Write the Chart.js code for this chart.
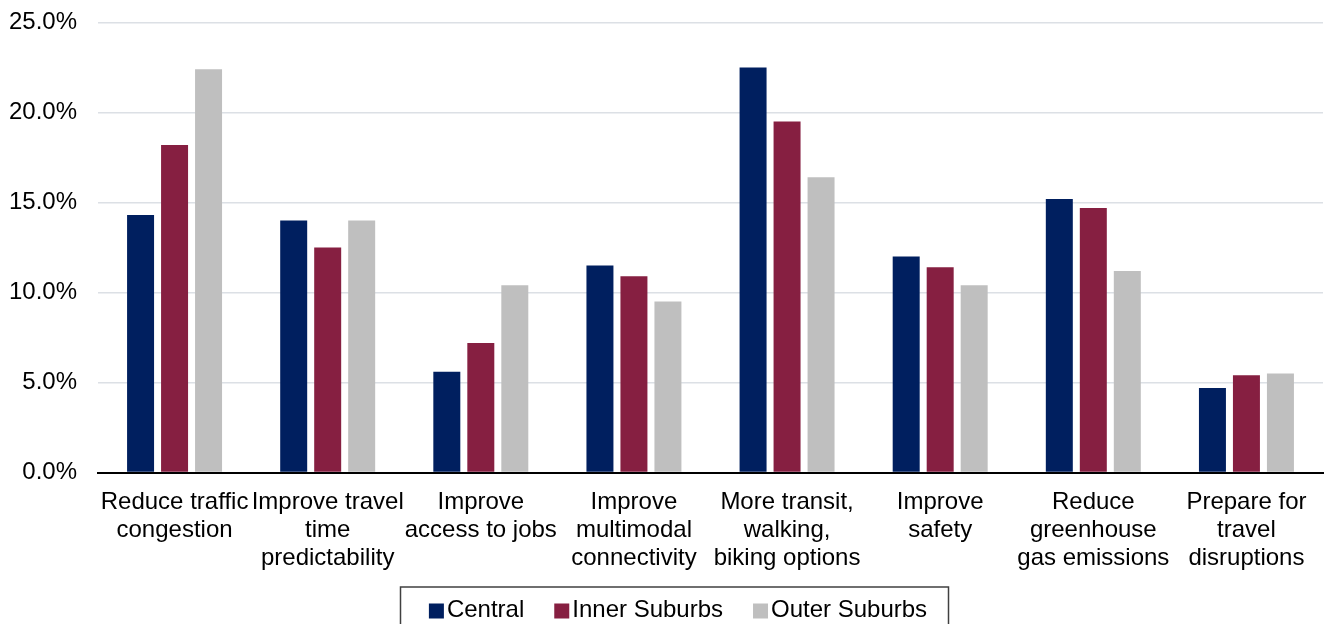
<!DOCTYPE html>
<html>
<head>
<meta charset="utf-8">
<title>Transportation priorities by area</title>
<script src="https://cdn.jsdelivr.net/npm/chart.js@4/dist/chart.umd.min.js"></script>
<style>
    body {
        margin: 0;
        padding: 0;
        background-color: #fff;
    }

    canvas {
        display: block;
    }
</style>
</head>
<body>
<canvas id="chart" width="1325" height="624"></canvas>
<script>
    // chart data (percent of responses)
    const categories = [
        ["Reduce traffic", "congestion"],
        ["Improve travel", "time", "predictability"],
        ["Improve", "access to jobs"],
        ["Improve", "multimodal", "connectivity"],
        ["More transit,", "walking,", "biking options"],
        ["Improve", "safety"],
        ["Reduce", "greenhouse", "gas emissions"],
        ["Prepare for", "travel", "disruptions"]
    ];
    const seriesNames = ["Central", "Inner Suburbs", "Outer Suburbs"];
    const central = [14.3, 14.0, 5.6, 11.5, 22.5, 12.0, 15.2, 4.7];
    const innerSuburbs = [18.2, 12.5, 7.2, 10.9, 19.5, 11.4, 14.7, 5.4];
    const outerSuburbs = [22.4, 14.0, 10.4, 9.5, 16.4, 10.4, 11.2, 5.5];
    const yTicks = [0, 5, 10, 15, 20, 25];
    const colors = ["#001F5F", "#861F41", "#BFBFBF"];

    const FONT = "'Liberation Sans', Arial, sans-serif";

    // legend with a frame, drawn under the plot like the original
    const boxedLegend = {
        id: "boxedLegend",
        afterDraw(chart) {
            const ctx = chart.ctx;
            const sets = chart.data.datasets;
            const sq = 15, gapText = 3, gapItem = 30, cy = 610;
            ctx.save();
            ctx.font = "24px " + FONT;
            let total = 0;
            sets.forEach((ds, i) => {
                total += sq + gapText + ctx.measureText(ds.label).width;
                if (i < sets.length - 1) total += gapItem;
            });
            let x = 678 - total / 2;

            ctx.strokeStyle = "#404040";
            ctx.lineWidth = 1.5;
            ctx.strokeRect(400.5, 587, 548, 60);

            ctx.textBaseline = "middle";
            ctx.textAlign = "left";
            sets.forEach(ds => {
                ctx.fillStyle = ds.backgroundColor;
                ctx.fillRect(x, cy - sq / 2 + 1, sq, sq);
                x += sq + gapText;
                ctx.fillStyle = "#000";
                ctx.fillText(ds.label, x, cy);
                x += ctx.measureText(ds.label).width + gapItem;
            });
            ctx.restore();
        }
    };

    new Chart("chart", {
        type: "bar",
        data: {
            labels: categories,
            datasets: [
                { label: seriesNames[0], data: central, backgroundColor: colors[0] },
                { label: seriesNames[1], data: innerSuburbs, backgroundColor: colors[1] },
                { label: seriesNames[2], data: outerSuburbs, backgroundColor: colors[2] }
            ]
        },
        options: {
            responsive: false,
            animation: false,
            layout: {
                padding: { top: 22.5, right: 2, bottom: 0, left: 0 }
            },
            datasets: {
                bar: {
                    barPercentage: 0.794,
                    categoryPercentage: 0.666
                }
            },
            plugins: {
                legend: { display: false },
                tooltip: { enabled: false }
            },
            scales: {
                x: {
                    grid: { display: false, drawTicks: false },
                    border: { display: true, color: "#000", width: 2 },
                    ticks: {
                        color: "#000",
                        font: { family: FONT, size: 24, lineHeight: 28 / 24 },
                        padding: 16,
                        maxRotation: 0,
                        minRotation: 0,
                        autoSkip: false
                    },
                    afterFit: (scale) => {
                        scale.height = 151.5;
                        scale.paddingLeft = 0;
                        scale.paddingRight = 0;
                    }
                },
                y: {
                    min: 0,
                    max: 25,
                    afterBuildTicks: (scale) => {
                        scale.ticks = yTicks.map(v => ({ value: v }));
                    },
                    grid: {
                        drawTicks: false,
                        lineWidth: 1.5,
                        color: (c) => c.tick && c.tick.value === 0 ? "rgba(0,0,0,0)" : "#DCE0E5"
                    },
                    border: { display: false },
                    ticks: {
                        color: "#000",
                        font: { family: FONT, size: 24 },
                        padding: 21,
                        callback: (v) => v.toFixed(1) + "%"
                    },
                    afterFit: (scale) => {
                        scale.width = 98;
                        scale.paddingTop = 0;
                        scale.paddingBottom = 0;
                    }
                }
            }
        },
        plugins: [boxedLegend]
    });
</script>
</body>
</html>
